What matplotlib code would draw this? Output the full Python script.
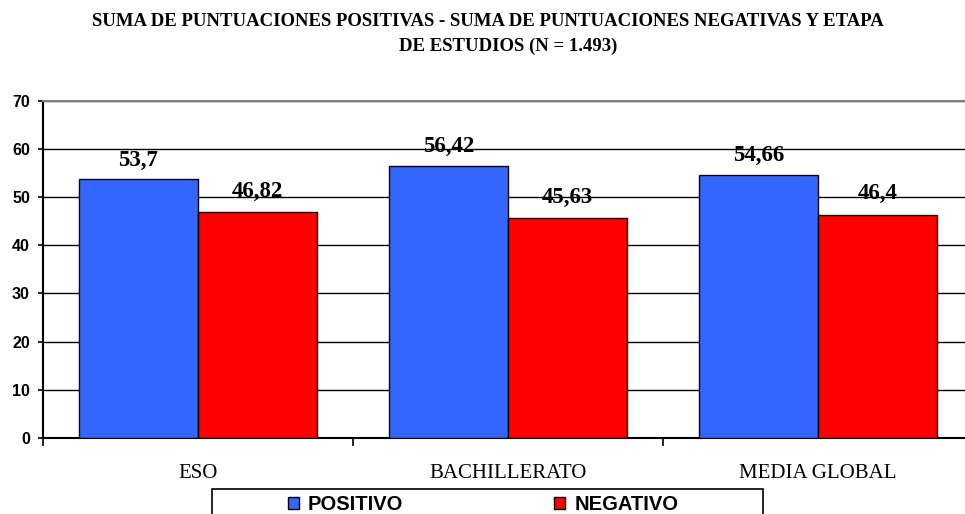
import matplotlib
matplotlib.use('Agg')
import matplotlib.pyplot as plt
from matplotlib.patches import Rectangle
import numpy as np

# Datos
categorias = ['ESO', 'BACHILLERATO', 'MEDIA GLOBAL']
positivo = [53.7, 56.42, 54.66]
negativo = [46.82, 45.63, 46.4]
etiq_pos = ['53,7', '56,42', '54,66']
etiq_neg = ['46,82', '45,63', '46,4']
titulo_1 = 'SUMA DE PUNTUACIONES POSITIVAS - SUMA DE PUNTUACIONES NEGATIVAS Y ETAPA'
titulo_2 = 'DE ESTUDIOS (N = 1.493)'

azul = '#3366FF'
rojo = '#FF0000'
serif = 'Liberation Serif'
sans = 'Liberation Sans'

fig = plt.figure(figsize=(9.65, 5.14), dpi=100)
ax = fig.add_axes([43 / 965, 76.3 / 514, 930 / 965, 336.7 / 514])

x = np.arange(len(categorias)) + 0.5
w = 0.385
b1 = ax.bar(x - w / 2, positivo, w, color=azul, edgecolor='black', linewidth=1.0,
            label='POSITIVO', zorder=3)
b2 = ax.bar(x + w / 2, negativo, w, color=rojo, edgecolor='black', linewidth=1.0,
            label='NEGATIVO', zorder=3)

for i in range(len(categorias)):
    ax.annotate(etiq_pos[i], (x[i] - w / 2, positivo[i]), xytext=(0, 10),
                textcoords='offset points', ha='center', va='baseline',
                fontsize=16.5, fontweight='bold', family=serif, zorder=4)
    ax.annotate(etiq_neg[i], (x[i] + w / 2, negativo[i]), xytext=(0, 11),
                textcoords='offset points', ha='center', va='baseline',
                fontsize=16.5, fontweight='bold', family=serif, zorder=4)

ax.set_xlim(0, 3)
ax.set_ylim(0, 70)
ax.set_yticks(range(0, 71, 10))
ax.yaxis.grid(True, color='black', linewidth=1.0, zorder=0)
ax.set_axisbelow(True)
ax.tick_params(axis='y', direction='out', length=3.6, width=1.2, pad=5.8,
               labelsize=11.5)
for lab in ax.get_yticklabels():
    lab.set_fontweight('bold')
    lab.set_family(sans)

ax.set_xticks(x)
ax.set_xticklabels(categorias, family=serif, fontsize=15)
ax.tick_params(axis='x', length=0, pad=19)
ax.set_xticks([0, 1, 2, 3], minor=True)
ax.tick_params(axis='x', which='minor', length=6, width=1.2, direction='out')

ax.spines['right'].set_visible(False)
ax.spines['top'].set_color('#808080')
ax.spines['top'].set_linewidth(1.5)
ax.spines['left'].set_linewidth(1.5)
ax.spines['bottom'].set_linewidth(1.5)

fig.text(488 / 965, 1 - 26 / 514, titulo_1, ha='center', va='baseline',
         family=serif, fontweight='bold', fontsize=13.5)
fig.text(508 / 965, 1 - 51 / 514, titulo_2, ha='center', va='baseline',
         family=serif, fontweight='bold', fontsize=13.5)

# Leyenda
fig.patches.append(Rectangle((212 / 965, -0.02), 551 / 965, 25 / 514 + 0.02,
                             transform=fig.transFigure, facecolor='white',
                             edgecolor='black', linewidth=1.2))
leg = fig.legend(handles=[b1, b2], loc='center', ncol=2,
                 bbox_to_anchor=(483 / 965, 1 - 505 / 514), frameon=False,
                 prop={'family': sans, 'weight': 'bold', 'size': 14.5},
                 handlelength=0.55, handleheight=0.55, handletextpad=0.45,
                 columnspacing=7.5, borderpad=0)

fig.savefig('out.png', dpi=100)
